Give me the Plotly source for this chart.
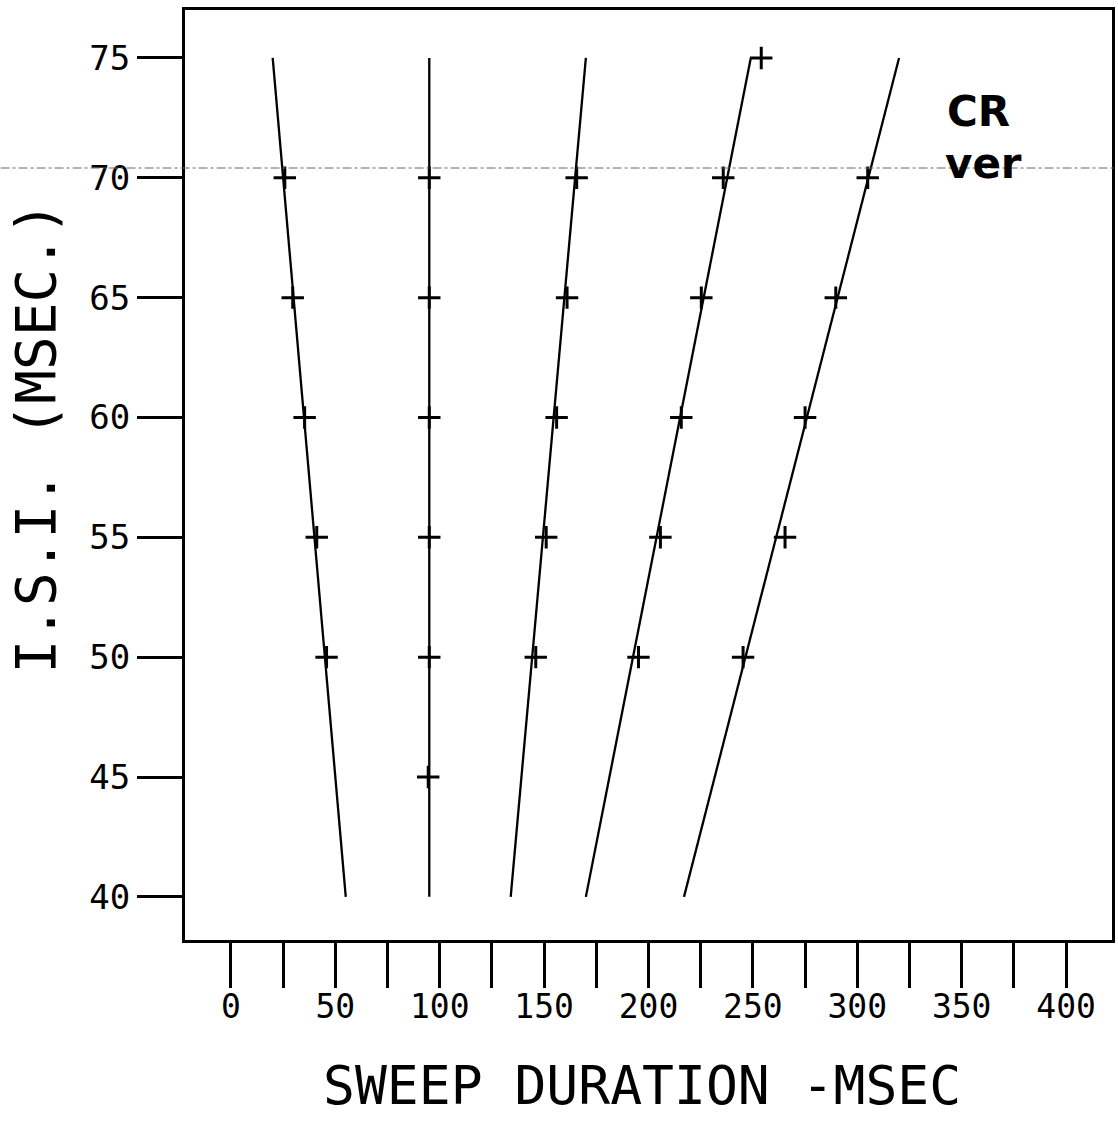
import plotly.graph_objects as go

# ---- data ----
# fitted lines: sweep duration at I.S.I. = 75 and at I.S.I. = 40
fit_isi = [75, 40]
fit_a = [20, 55]
fit_b = [95, 95]
fit_c = [170, 134]
fit_d = [249, 170]
fit_e = [320, 217]

# measured points ("+" marks)
pts_a_isi = [70, 65, 60, 55, 50]
pts_a_sweep = [25.8, 29.6, 35.3, 41.1, 45.8]
pts_b_isi = [70, 65, 60, 55, 50, 45]
pts_b_sweep = [95, 95, 95, 95, 95, 94.5]
pts_c_isi = [70, 65, 60, 55, 50]
pts_c_sweep = [165.6, 161, 156, 151, 146]
pts_d_isi = [75, 70, 65, 60, 55, 50]
pts_d_sweep = [254, 235.8, 225.3, 215.7, 205.7, 195.2]
pts_e_isi = [70, 65, 60, 55, 50]
pts_e_sweep = [305, 289.7, 275, 265.4, 245.3]

x_tick_vals = list(range(0, 425, 25))
x_tick_text = [str(v) if v % 50 == 0 else "" for v in x_tick_vals]
y_tick_vals = [40, 45, 50, 55, 60, 65, 70, 75]
y_tick_text = [str(v) for v in y_tick_vals]

x_title = "SWEEP DURATION -MSEC"
y_title = "I.S.I. (MSEC.)"
tag_line1 = "CR"
tag_line2 = "ver"

W, H = 1118, 1128
L, R, T, B = 185, 3, 10, 188

fig = go.Figure()
fits = [fit_a, fit_b, fit_c, fit_d, fit_e]
pts = [(pts_a_sweep, pts_a_isi), (pts_b_sweep, pts_b_isi), (pts_c_sweep, pts_c_isi),
       (pts_d_sweep, pts_d_isi), (pts_e_sweep, pts_e_isi)]
for f in fits:
    fig.add_trace(go.Scatter(x=f, y=fit_isi, mode="lines",
                             line=dict(color="black", width=2.3), showlegend=False,
                             hoverinfo="skip"))
for xs, ys in pts:
    fig.add_trace(go.Scatter(x=xs, y=ys, mode="markers",
                             marker=dict(symbol="cross-thin", size=16,
                                         line=dict(color="black", width=3)),
                             showlegend=False))

mono = "DejaVu Sans Mono"
fig.update_layout(
    width=W, height=H,
    margin=dict(l=L, r=R, t=T, b=B, pad=0),
    paper_bgcolor="white", plot_bgcolor="white",
    showlegend=False,
    xaxis=dict(range=[-22, 422], showgrid=False, zeroline=False,
               showline=True, mirror=True, linecolor="black", linewidth=3,
               ticks="outside", ticklen=45, tickwidth=2.5, tickcolor="black",
               tickvals=x_tick_vals, ticktext=x_tick_text,
               ticklabelstandoff=-10,
               tickfont=dict(family=mono, size=33, color="black")),
    yaxis=dict(range=[38.2, 77.0], showgrid=False, zeroline=False,
               showline=True, mirror=True, linecolor="black", linewidth=3,
               ticks="outside", ticklen=45, tickwidth=3, tickcolor="black",
               tickvals=y_tick_vals, ticktext=y_tick_text,
               tickfont=dict(family=mono, size=34, color="black")),
    annotations=[
        dict(text=x_title, xref="paper", yref="paper",
             x=(643 - L) / (W - L - R), y=-(1085 - (H - B)) / (H - T - B),
             xanchor="center", yanchor="middle", showarrow=False,
             font=dict(family=mono, size=53, color="black")),
        dict(text=y_title, xref="paper", yref="paper", textangle=-90,
             x=(35 - L) / (W - L - R), y=1 - (437 - T) / (H - T - B),
             xanchor="center", yanchor="middle", showarrow=False,
             font=dict(family=mono, size=56, color="black")),
        dict(text="<b>" + tag_line1 + "</b>", xref="paper", yref="paper",
             x=(981 - L) / (W - L - R), y=1 - (111 - T) / (H - T - B),
             xanchor="center", yanchor="middle", showarrow=False,
             font=dict(family="DejaVu Sans", size=42, color="black")),
        dict(text="<b>" + tag_line2 + "</b>", xref="paper", yref="paper",
             x=(986 - L) / (W - L - R), y=1 - (163 - T) / (H - T - B),
             xanchor="center", yanchor="middle", showarrow=False,
             font=dict(family="DejaVu Sans", size=42, color="black")),
    ],
    shapes=[
        dict(type="line", xref="paper", yref="paper",
             x0=-L / (W - L - R), x1=1 + R / (W - L - R),
             y0=1 - (168 - T) / (H - T - B), y1=1 - (168 - T) / (H - T - B),
             line=dict(color="#666666", width=1, dash="dashdot")),
    ],
)

fig.write_html("out.html")
